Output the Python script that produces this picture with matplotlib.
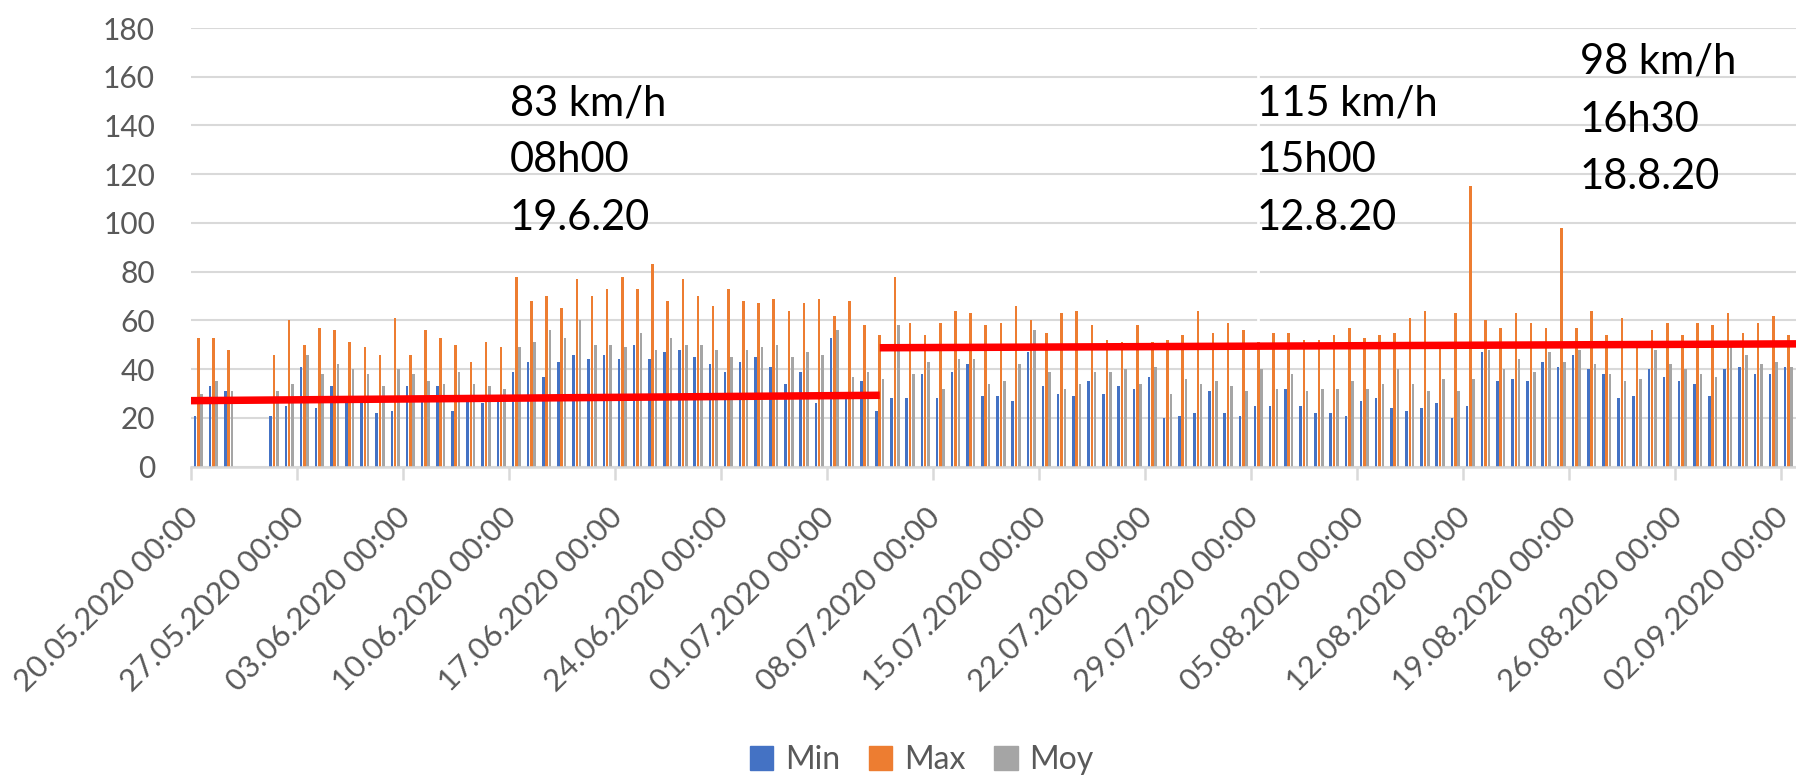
import matplotlib
matplotlib.use('Agg')
import matplotlib.pyplot as plt
import numpy as np
from matplotlib.patches import Patch
from matplotlib.lines import Line2D
from matplotlib.transforms import ScaledTranslation

plt.rcParams['font.family'] = ['Lato', 'DejaVu Sans']

nan = np.nan

# daily wind speed (km/h), one value per day from 20.05.2020 to 02.09.2020
v_min = [21, 33, 31, nan, nan, 21, 25, 41, 24, 33, 28, 27, 22, 23, 33, 28, 33, 23, 29, 26,
         28, 39, 43, 37, 43, 46, 44, 46, 44, 50, 44, 47, 48, 45, 42, 39, 43, 45, 41, 34,
         39, 26, 53, 29, 35, 23, 28, 28, 38, 28, 39, 42, 29, 29, 27, 47, 33, 30, 29, 35,
         30, 33, 32, 37, 20, 21, 22, 31, 22, 21, 25, 25, 32, 25, 22, 22, 21, 27, 28, 24,
         23, 24, 26, 20, 25, 47, 35, 36, 35, 43, 41, 46, 40, 38, 28, 29, 40, 37, 35, 34,
         29, 40, 41, 38, 38, 41]
v_max = [53, 53, 48, nan, nan, 46, 60, 50, 57, 56, 51, 49, 46, 61, 46, 56, 53, 50, 43, 51,
         49, 78, 68, 70, 65, 77, 70, 73, 78, 73, 83, 68, 77, 70, 66, 73, 68, 67, 69, 64,
         67, 69, 62, 68, 58, 54, 78, 59, 54, 59, 64, 63, 58, 59, 66, 60, 55, 63, 64, 58,
         52, 51, 58, 51, 52, 54, 64, 55, 59, 56, 51, 55, 55, 52, 52, 54, 57, 53, 54, 55,
         61, 64, 50, 63, 115, 60, 57, 63, 59, 57, 98, 57, 64, 54, 61, 49, 56, 59, 54, 59,
         58, 63, 55, 59, 62, 54]
v_moy = [30, 35, 31, nan, nan, 31, 34, 46, 38, 42, 40, 38, 33, 40, 38, 35, 34, 39, 34, 33,
         32, 49, 51, 56, 53, 60, 50, 50, 49, 55, 48, 53, 50, 50, 48, 45, 48, 49, 50, 45,
         47, 46, 56, 37, 39, 36, 58, 38, 43, 32, 44, 44, 34, 35, 42, 56, 39, 32, 34, 39,
         39, 40, 34, 41, 30, 36, 34, 35, 33, 31, 40, 32, 38, 31, 32, 32, 35, 32, 34, 40,
         34, 31, 36, 31, 36, 48, 40, 44, 39, 47, 43, 48, 42, 38, 35, 36, 48, 42, 40, 38,
         37, 49, 46, 42, 43, 41]

tick_labels = ['20.05.2020 00:00', '27.05.2020 00:00', '03.06.2020 00:00', '10.06.2020 00:00',
               '17.06.2020 00:00', '24.06.2020 00:00', '01.07.2020 00:00', '08.07.2020 00:00',
               '15.07.2020 00:00', '22.07.2020 00:00', '29.07.2020 00:00', '05.08.2020 00:00',
               '12.08.2020 00:00', '19.08.2020 00:00', '26.08.2020 00:00', '02.09.2020 00:00']

# hand-drawn red trend segments (day index, km/h)
trend1_x = [-0.5, 45.0]
trend1_y = [27.1, 29.3]
trend2_x = [45.0, 105.5]
trend2_y = [48.8, 50.4]

notes = [['83 km/h', '08h00', '19.6.20'],
         ['115 km/h', '15h00', '12.8.20'],
         ['98 km/h', '16h30', '18.8.20']]

c_min, c_max, c_moy = '#4472C4', '#ED7D31', '#A5A5A5'
grid_c = '#D9D9D9'
txt_c = '#595959'

W, H = 1796, 776
fig = plt.figure(figsize=(W / 100, H / 100), dpi=100)
ax = fig.add_axes([190.7 / W, 1 - 466.7 / H, 1 - 190.7 / W, (466.7 - 28) / H])

x = np.arange(len(v_min))
ax.bar(x - 0.22, v_min, 0.17, color=c_min, zorder=2)
ax.bar(x, v_max, 0.17, color=c_max, zorder=2)
ax.bar(x + 0.22, v_moy, 0.17, color=c_moy, zorder=2)

ax.plot(trend1_x, trend1_y, color='#FF0000', lw=5.4, solid_capstyle='butt', zorder=5)
ax.plot(trend2_x, trend2_y, color='#FF0000', lw=5.4, solid_capstyle='butt', zorder=5)

ax.set_xlim(-0.5, len(x) - 0.5)
ax.set_ylim(0, 180)
ax.set_yticks(range(0, 181, 20))
ax.grid(axis='y', color=grid_c, lw=1.5, zorder=0)
ax.set_axisbelow(True)
for s in ['top', 'right', 'left']:
    ax.spines[s].set_visible(False)
ax.spines['bottom'].set_color(grid_c)
ax.spines['bottom'].set_linewidth(1.8)

ax.set_xticks(x[::7])
ax.set_xticklabels(tick_labels)
ax.set_xticks(np.arange(-0.5, len(x) - 1, 7), minor=True)
ax.tick_params(axis='x', which='major', length=0, pad=26, labelsize=22.4, labelcolor=txt_c)
ax.tick_params(axis='x', which='minor', length=9.5, width=1.8, color=grid_c)
ax.tick_params(axis='y', length=0, pad=25.7, labelsize=21.5, labelcolor=txt_c)
shift = ScaledTranslation(5 / 100, 0, fig.dpi_scale_trans)
for lab in ax.get_xticklabels():
    lab.set_rotation(45)
    lab.set_ha('right')
    lab.set_va('top')
    lab.set_transform(lab.get_transform() + shift)

# annotations (left x, first baseline, line step) in pixels
note_pos = [(510, 115, 57.5), (1257, 115, 57.5), (1580, 74, 57.6)]
for lines, (px, py, step) in zip(notes, note_pos):
    for k, t in enumerate(lines):
        fig.text(px / W, 1 - (py + k * step) / H, t, fontsize=30, color='black',
                 ha='left', va='baseline')

# thin white border of the text box
fig.add_artist(Line2D([1258 / W, 1258 / W], [1, 1 - 335 / H], color='white', lw=2))

handles = [Patch(color=c_min, label='Min'), Patch(color=c_max, label='Max'),
           Patch(color=c_moy, label='Moy')]
fig.legend(handles=handles, loc='center', bbox_to_anchor=(0.513, 1 - 760 / H), ncol=3,
           frameon=False, fontsize=23, labelcolor=txt_c, handlelength=0.75,
           handleheight=0.75, handletextpad=0.35, columnspacing=0.9)

fig.savefig('out.png', dpi=100)
